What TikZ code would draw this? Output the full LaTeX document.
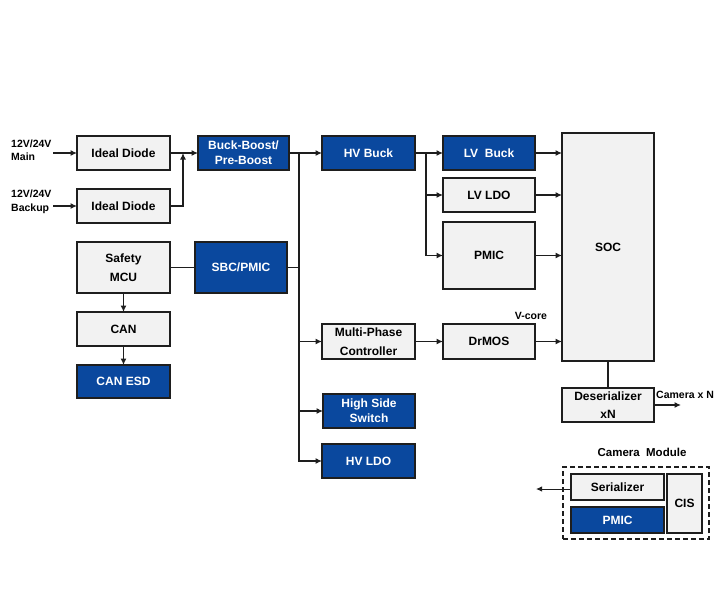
\documentclass[tikz,border=0pt]{standalone}
\usepackage{fontspec}
\setmainfont{Liberation Sans}
\usetikzlibrary{arrows.meta}
\definecolor{tiblue}{RGB}{10,72,158}
\definecolor{tigray}{RGB}{242,242,242}
\definecolor{tiline}{RGB}{30,30,30}
\tikzset{
  base/.style={draw=tiline, line width=1.4pt, inner sep=0pt, outer sep=0pt, align=center,
    font=\fontsize{12}{15}\selectfont\bfseries},
  graybox/.style={base, fill=tigray, text=black},
  bluebox/.style={base, fill=tiblue, text=white},
  conn/.style={draw=tiline, line width=1.2pt},
  arr/.style={conn, -{Latex[length=6.5pt,width=6pt]}},
  lbl/.style={inner sep=0pt, font=\fontsize{10.5}{13.5}\selectfont\bfseries, align=left},
  small/.style={inner sep=0pt, font=\fontsize{10.5}{12}\selectfont\bfseries},
}
\begin{document}
\begin{tikzpicture}[x=1pt,y=-1pt]
\useasboundingbox[fill=white] (0,0) rectangle (720,600);

% nodes
\node[graybox, minimum width=93pt, minimum height=34pt] (d1) at (123.5,153) {Ideal Diode};
\node[graybox, minimum width=93pt, minimum height=34pt] (d2) at (123.5,206) {Ideal Diode};
\node[bluebox, minimum width=91pt, minimum height=34pt] (bb) at (243.5,153) {Buck-Boost/\\Pre-Boost};
\node[bluebox, minimum width=93pt, minimum height=34pt] (hvb) at (368.5,153) {HV Buck};
\node[bluebox, minimum width=92pt, minimum height=34pt] (lvb) at (489,153) {LV\ \ Buck};
\node[graybox, minimum width=92pt, minimum height=34pt] (lvldo) at (489,195) {LV LDO};
\node[graybox, minimum width=92pt, minimum height=67pt] (pmic) at (489,255.5) {PMIC};
\node[graybox, minimum width=92pt, minimum height=228pt] (soc) at (608,247) {SOC};
\node[graybox, minimum width=92pt, minimum height=34pt, font=\fontsize{12}{18}\selectfont\bfseries] (des) at (608,405) {Deserializer\\xN};
\node[graybox, minimum width=93pt, minimum height=51pt, font=\fontsize{12}{19}\selectfont\bfseries] (mcu) at (123.5,267.5) {Safety\\MCU};
\node[bluebox, minimum width=92pt, minimum height=51pt] (sbc) at (241,267.5) {SBC/PMIC};
\node[graybox, minimum width=93pt, minimum height=34pt] (can) at (123.5,329) {CAN};
\node[bluebox, minimum width=93pt, minimum height=33pt] (canesd) at (123.5,381.5) {CAN ESD};
\node[graybox, minimum width=93pt, minimum height=35pt, font=\fontsize{12}{19}\selectfont\bfseries] (mpc) at (368.5,341.5) {Multi-Phase\\Controller};
\node[graybox, minimum width=92pt, minimum height=35pt] (drmos) at (489,341.5) {DrMOS};
\node[bluebox, minimum width=92pt, minimum height=34pt] (hss) at (369,411) {High Side\\Switch};
\node[bluebox, minimum width=93pt, minimum height=34pt] (hvldo) at (368.5,461) {HV LDO};

% camera module
\node[draw=tiline, line width=1.3pt, dash pattern=on 5pt off 3pt, minimum width=146pt, minimum height=72pt, inner sep=0pt] (cam) at (636,503) {};
\node[small, font=\fontsize{11.5}{13}\selectfont\bfseries] (camt) at (642,452) {Camera\ \ Module};
\node[graybox, minimum width=93pt, minimum height=26pt] (ser) at (617.5,487) {Serializer};
\node[bluebox, minimum width=93pt, minimum height=26pt] (cpmic) at (617.5,520) {PMIC};
\node[graybox, minimum width=35pt, minimum height=59pt] (cis) at (684.5,503.5) {CIS};

% labels
\node[lbl, anchor=west] (lmain) at (11,150) {12V/24V\\Main};
\node[lbl, anchor=west] (lback) at (11,202) {12V/24V\\Backup};
\node[small] (vcore) at (531,316) {V-core};
\node[small, anchor=south west] (camn) at (656,399) {Camera x N};

% coordinates
\coordinate (in1) at (53,153);
\coordinate (in2) at (53,206);
\coordinate (j1) at (183,153);
\coordinate (b0) at (299,153);
\coordinate (b1) at (426,153);
\coordinate (camout) at (681,405);
\coordinate (serout) at (536,489);

% connectors
\draw[arr] (in1) -- (d1.west);
\draw[arr] (in2) -- (d2.west);
\draw[arr] (d1.east) -- (bb.west);
\draw[arr] (d2.east) -| (j1);
\draw[arr] (bb.east) -- (hvb.west);
\draw[arr] (b0) |- (mpc.west);
\draw[arr] (b0) |- (hss.west);
\draw[arr] (b0) |- (hvldo.west);
\draw[conn] (sbc.east) -- (sbc.east -| b0);
\draw[conn] (mcu.east) -- (sbc.west);
\draw[arr] (mcu.south) -- (can.north);
\draw[arr] (can.south) -- (canesd.north);
\draw[arr] (hvb.east) -- (lvb.west);
\draw[arr] (b1) |- (lvldo.west);
\draw[arr] (b1) |- (pmic.west);
\draw[arr] (lvb.east) -- (soc.west |- lvb.east);
\draw[arr] (lvldo.east) -- (soc.west |- lvldo.east);
\draw[arr] (pmic.east) -- (soc.west |- pmic.east);
\draw[arr] (mpc.east) -- (drmos.west);
\draw[arr] (drmos.east) -- (soc.west |- drmos.east);
\draw[conn] (soc.south) -- (des.north);
\draw[arr] (des.east) -- (camout);
\draw[conn, -{Latex[length=6pt,width=5.5pt]}, line width=1pt] (ser.west |- serout) -- (serout);
\end{tikzpicture}
\end{document}
